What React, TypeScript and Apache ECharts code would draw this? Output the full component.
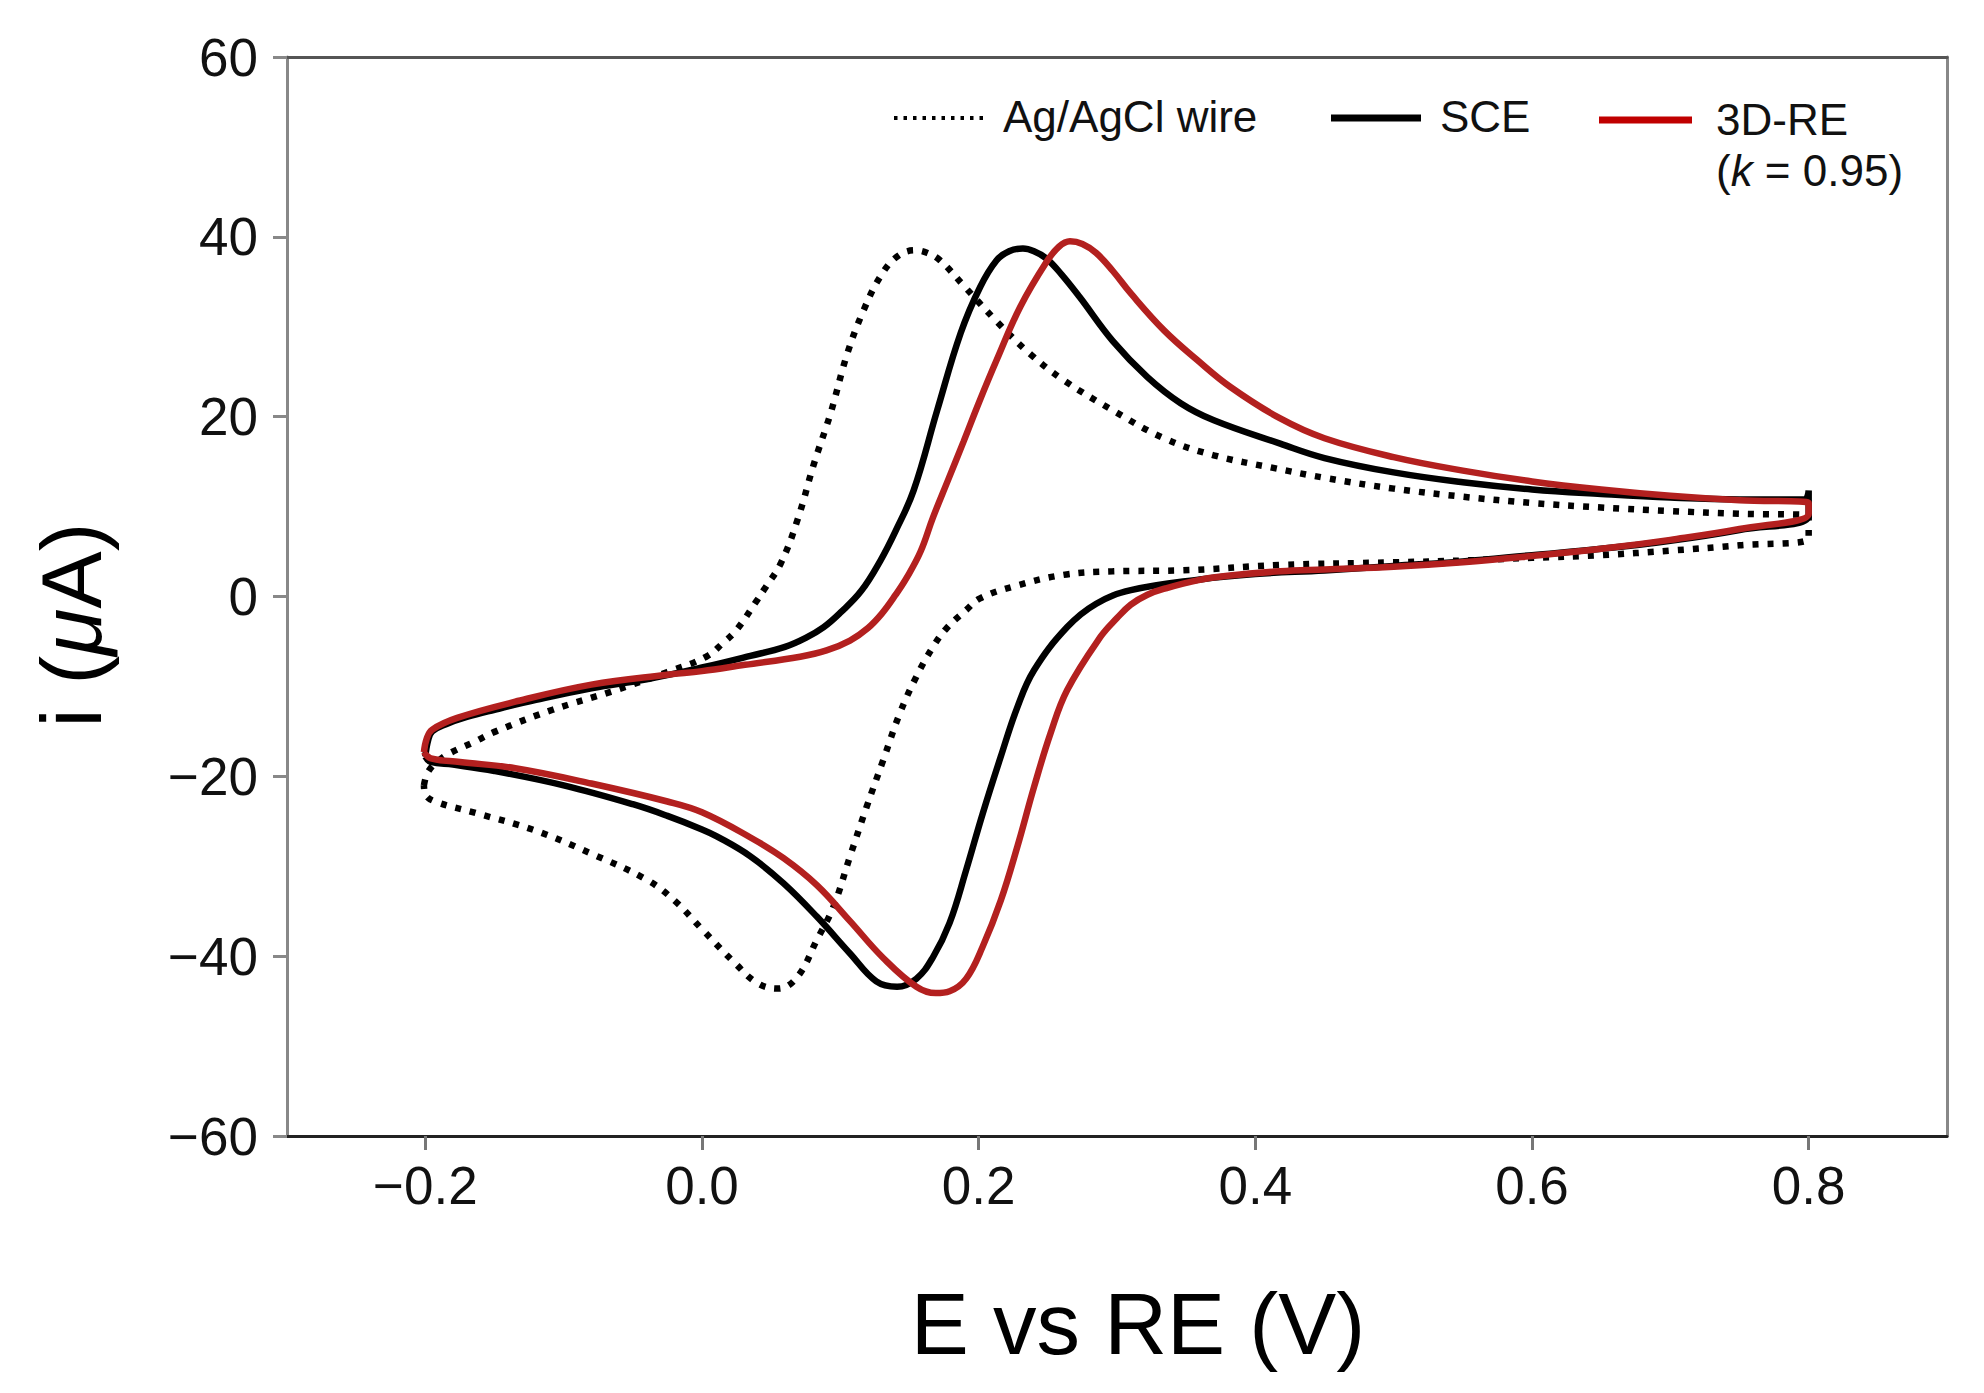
import React, { useEffect, useRef } from "react";
import * as echarts from "echarts";

// ---- data (E in V, i in µA) ----
const xTickValues = [-0.2, 0, 0.2, 0.4, 0.6, 0.8];

// Ag/AgCl wire (dotted)
const agE = [
  -0.201, -0.198, -0.19, -0.182, -0.165, -0.149, -0.108, -0.066, -0.025, 0.003, 0.015, 0.025, 0.039, 0.045, 0.057,
  0.069, 0.081, 0.093, 0.105, 0.117, 0.129, 0.141, 0.154, 0.163, 0.172, 0.189, 0.213, 0.237, 0.261, 0.297, 0.334,
  0.37, 0.413, 0.45, 0.5, 0.55, 0.6, 0.65, 0.7, 0.75, 0.8,
  0.8, 0.75, 0.7, 0.65, 0.6, 0.55, 0.5, 0.418, 0.346, 0.297, 0.261, 0.225, 0.201, 0.191, 0.177, 0.167, 0.155,
  0.143, 0.131, 0.119, 0.107, 0.095, 0.083, 0.069, 0.055, 0.04, 0.024, 0.0, -0.02, -0.04, -0.08, -0.121, -0.163,
  -0.193, -0.2, -0.201,
];
const agI = [
  -21.0, -19.5, -18.2, -17.4, -16.2, -15.0, -12.6, -10.6, -8.4, -6.7, -5.2, -3.7, -0.6, 0.8, 3.7,
  8.5, 14.8, 20.4, 27.0, 31.9, 35.6, 37.8, 38.5, 38.2, 37.4, 34.6, 30.6, 27.0, 24.1, 20.7, 17.6,
  15.7, 14.3, 13.2, 12.0, 11.1, 10.4, 9.9, 9.5, 9.2, 9.0,
  6.5, 5.7, 5.1, 4.6, 4.3, 4.0, 3.8, 3.5, 2.9, 2.8, 2.4, 1.1, -0.2, -1.5, -3.5, -5.6, -8.9,
  -13.0, -18.2, -23.4, -28.9, -34.5, -38.2, -42.3, -43.6, -43.0, -40.8, -37.0, -33.8, -31.5, -28.6, -26.0, -24.1,
  -22.8, -22.0, -21.0,
];

// SCE (black)
const sceE = [
  -0.2, -0.198, -0.195, -0.185, -0.17, -0.15, -0.12, -0.08, -0.04, 0.0, 0.035, 0.06, 0.075, 0.088, 0.1, 0.115,
  0.129, 0.14, 0.153, 0.17, 0.187, 0.201, 0.213, 0.222, 0.232, 0.24, 0.249, 0.26, 0.273, 0.297, 0.322, 0.346,
  0.37, 0.418, 0.45, 0.5, 0.55, 0.6, 0.65, 0.7, 0.75, 0.797, 0.8,
  0.8, 0.75, 0.7, 0.65, 0.6, 0.55, 0.5, 0.45, 0.4, 0.36, 0.31, 0.285, 0.264, 0.24, 0.228, 0.216, 0.203, 0.191,
  0.179, 0.167, 0.155, 0.141, 0.126, 0.107, 0.083, 0.059, 0.035, 0.011, 0.0, -0.025, -0.05, -0.1, -0.15, -0.18,
  -0.196, -0.2,
];
const sceI = [
  -17.8, -16.0, -15.0, -14.2, -13.4, -12.6, -11.5, -10.2, -9.2, -7.9, -6.6, -5.6, -4.6, -3.4, -1.8, 0.6,
  4.0, 7.3, 11.8, 20.7, 29.3, 34.4, 37.4, 38.4, 38.7, 38.4, 37.6, 35.8, 33.3, 28.4, 24.4, 21.5,
  19.6, 17.0, 15.4, 13.8, 12.7, 11.9, 11.4, 11.0, 10.8, 10.8, 11.8,
  9.0, 7.4, 6.2, 5.3, 4.6, 3.9, 3.4, 2.9, 2.5, 1.9, 0.7, -0.8, -3.4, -8.2, -12.3, -17.8, -24.1, -30.4,
  -36.3, -40.1, -42.5, -43.4, -42.8, -39.7, -35.6, -31.9, -28.9, -26.7, -25.9, -24.4, -23.1, -21.0, -19.4, -18.7,
  -18.4, -17.8,
];

// 3D-RE, k = 0.95 (red)
const reE = [
  -0.201, -0.199, -0.195, -0.177, -0.135, -0.08, -0.025, 0.0, 0.031, 0.071, 0.09, 0.107, 0.12, 0.13, 0.14, 0.148,
  0.158, 0.167, 0.178, 0.189, 0.2, 0.213, 0.23, 0.249, 0.258, 0.266, 0.275, 0.285, 0.297, 0.31, 0.334, 0.358,
  0.382, 0.418, 0.45, 0.5, 0.55, 0.6, 0.65, 0.7, 0.75, 0.8,
  0.8, 0.75, 0.7, 0.65, 0.6, 0.55, 0.5, 0.45, 0.418, 0.38, 0.358, 0.335, 0.322, 0.31, 0.3, 0.288, 0.264, 0.252,
  0.24, 0.228, 0.216, 0.203, 0.191, 0.179, 0.169, 0.155, 0.131, 0.107, 0.083, 0.059, 0.035, 0.0, -0.025, -0.08,
  -0.135, -0.175, -0.196, -0.201,
];
const reI = [
  -17.3, -15.8, -14.8, -13.5, -11.7, -9.8, -8.7, -8.3, -7.6, -6.7, -6.0, -4.9, -3.5, -1.9, 0.2, 2.1,
  5.0, 8.8, 13.0, 17.2, 21.5, 26.3, 32.2, 37.2, 38.9, 39.5, 39.2, 38.2, 36.2, 33.7, 29.6, 26.3,
  23.3, 19.8, 17.6, 15.5, 14.0, 12.8, 11.9, 11.2, 10.7, 10.4,
  9.2, 7.5, 6.3, 5.3, 4.5, 3.8, 3.3, 3.0, 2.8, 2.3, 1.8, 0.9, 0.2, -0.9, -2.4, -4.5, -10.4, -15.2,
  -21.2, -27.8, -33.8, -38.9, -42.5, -43.9, -44.1, -43.4, -40.2, -36.1, -32.1, -29.1, -26.8, -24.0, -22.8, -20.8,
  -19.1, -18.4, -18.0, -17.3,
];

const legendNames = ["Ag/AgCl wire", "SCE", "3D-RE"];

const zip = (xs: number[], ys: number[]) => xs.map((x, i) => [x, ys[i]]);

const FONT = "'Liberation Sans', Arial, Helvetica, sans-serif";
const minus = (s: string) => s.replace("-", "\u2212");

export default function App() {
  const ref = useRef<HTMLDivElement>(null);

  useEffect(() => {
    if (!ref.current) return;
    const chart = echarts.init(ref.current, null, { renderer: "svg" });

    const option: any = {
      animation: false,
      backgroundColor: "#ffffff",
      grid: { left: 287, top: 57, right: 37, bottom: 257, containLabel: false },
      xAxis: [
        {
          type: "value",
          min: -0.3,
          max: 0.9,
          position: "bottom",
          axisLine: { show: true, onZero: false, lineStyle: { color: "#222222", width: 3 } },
          axisTick: {
            show: true,
            customValues: xTickValues,
            length: 14,
            lineStyle: { color: "#777777", width: 3 },
          },
          axisLabel: {
            show: true,
            customValues: xTickValues,
            margin: 23,
            fontSize: 53,
            fontFamily: FONT,
            color: "#111111",
            formatter: (v: number) => minus(v.toFixed(1)),
          },
          splitLine: { show: false },
        },
        {
          type: "value",
          min: -0.3,
          max: 0.9,
          position: "top",
          axisLine: { show: true, onZero: false, lineStyle: { color: "#555555", width: 3 } },
          axisTick: { show: false },
          axisLabel: { show: false },
          splitLine: { show: false },
        },
      ],
      yAxis: [
        {
          type: "value",
          min: -60,
          max: 60,
          interval: 20,
          position: "left",
          axisLine: { show: true, onZero: false, lineStyle: { color: "#888888", width: 3 } },
          axisTick: { show: true, length: 14, lineStyle: { color: "#888888", width: 3 } },
          axisLabel: {
            show: true,
            margin: 29,
            fontSize: 53,
            fontFamily: FONT,
            color: "#111111",
            formatter: (v: number) => minus(String(Math.round(v))),
          },
          splitLine: { show: false },
        },
        {
          type: "value",
          min: -60,
          max: 60,
          position: "right",
          axisLine: { show: true, onZero: false, lineStyle: { color: "#888888", width: 3 } },
          axisTick: { show: false },
          axisLabel: { show: false },
          splitLine: { show: false },
        },
      ],
      series: [
        {
          name: legendNames[0],
          type: "line",
          data: zip(agE, agI),
          showSymbol: false,
          smooth: 0.4,
          lineStyle: { color: "#000000", width: 6.5, type: [6, 9], cap: "butt" },
          z: 2,
        },
        {
          name: legendNames[1],
          type: "line",
          data: zip(sceE, sceI),
          showSymbol: false,
          smooth: 0.4,
          lineStyle: { color: "#000000", width: 6.5 },
          z: 3,
        },
        {
          name: legendNames[2],
          type: "line",
          data: zip(reE, reI),
          showSymbol: false,
          smooth: 0.4,
          lineStyle: { color: "#b3201f", width: 6.5 },
          z: 4,
        },
      ],
      graphic: [
        // x axis title
        {
          type: "text",
          x: 1138,
          y: 1323,
          style: {
            text: "E vs RE (V)",
            fontSize: 87,
            fontFamily: FONT,
            fill: "#000000",
            textAlign: "center",
            textVerticalAlign: "middle",
          },
        },
        // y axis title
        {
          type: "text",
          x: 71,
          y: 625,
          rotation: Math.PI / 2,
          style: {
            text: "{a|i (}{m|\u03bc}{a|A)}",
            fontSize: 86,
            fontFamily: FONT,
            fill: "#000000",
            textAlign: "center",
            textVerticalAlign: "middle",
            rich: {
              a: { fontSize: 86, fontFamily: FONT, fill: "#000000" },
              m: { fontSize: 86, fontFamily: FONT, fontStyle: "italic", fill: "#000000" },
            },
          },
        },
        // legend: Ag/AgCl wire
        {
          type: "line",
          shape: { x1: 894, y1: 118, x2: 983, y2: 118 },
          style: { stroke: "#000000", lineWidth: 4, lineDash: [3.5, 6], lineCap: "butt" },
        },
        {
          type: "text",
          x: 1003,
          y: 116,
          style: {
            text: legendNames[0],
            fontSize: 44,
            fontFamily: FONT,
            fill: "#111111",
            textAlign: "left",
            textVerticalAlign: "middle",
          },
        },
        // legend: SCE
        {
          type: "line",
          shape: { x1: 1331, y1: 118, x2: 1421, y2: 118 },
          style: { stroke: "#000000", lineWidth: 7, lineCap: "butt" },
        },
        {
          type: "text",
          x: 1440,
          y: 116,
          style: {
            text: legendNames[1],
            fontSize: 44,
            fontFamily: FONT,
            fill: "#111111",
            textAlign: "left",
            textVerticalAlign: "middle",
          },
        },
        // legend: 3D-RE
        {
          type: "line",
          shape: { x1: 1599, y1: 120, x2: 1692, y2: 120 },
          style: { stroke: "#c00000", lineWidth: 7, lineCap: "butt" },
        },
        {
          type: "text",
          x: 1716,
          y: 119,
          style: {
            text: legendNames[2],
            fontSize: 44,
            fontFamily: FONT,
            fill: "#111111",
            textAlign: "left",
            textVerticalAlign: "middle",
          },
        },
        {
          type: "text",
          x: 1716,
          y: 170,
          style: {
            text: "{a|(}{k|k}{a| = 0.95)}",
            fontSize: 44,
            fontFamily: FONT,
            fill: "#111111",
            textAlign: "left",
            textVerticalAlign: "middle",
            rich: {
              a: { fontSize: 44, fontFamily: FONT, fill: "#111111" },
              k: { fontSize: 44, fontFamily: FONT, fontStyle: "italic", fill: "#111111" },
            },
          },
        },
      ],
    };

    chart.setOption(option);
    return () => chart.dispose();
  }, []);

  return (
    <div
      ref={ref}
      style={{ position: "fixed", left: 0, top: 0, width: 1984, height: 1393, background: "#ffffff" }}
    />
  );
}
